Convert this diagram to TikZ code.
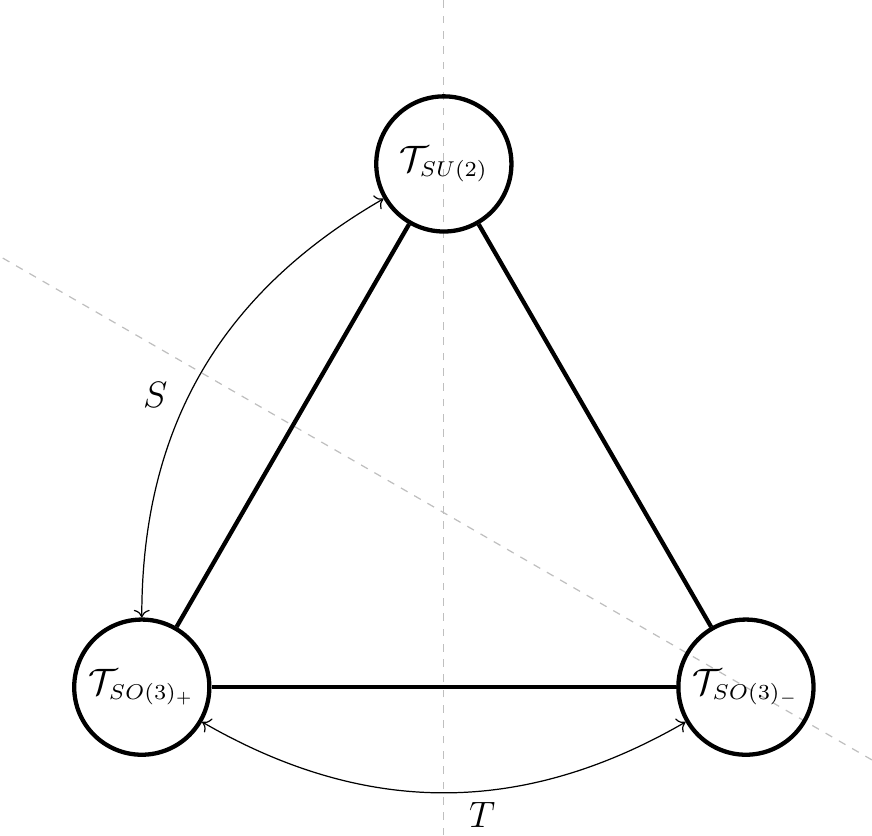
\documentclass[tikz,border=0pt]{standalone}
\usepackage{amsmath,amssymb}
\usepackage{tikz}
\usetikzlibrary{arrows.meta}
\DeclareMathSizes{12}{12}{7}{5}

\begin{document}
\begin{tikzpicture}[
    theory/.style={circle,draw,line width=1.4pt,minimum size=1.55cm,inner sep=0pt,font=\large},
    mirror/.style={gray!50,dash pattern=on 2.5pt off 2.5pt}]
  \useasboundingbox (-5.09,-3.70) rectangle (4.91,5.88);
  % symmetry axes
  \draw[mirror] (0,-3.70) -- (0,5.88);
  \draw[mirror] (4.91,-2.835) -- (-5.09,2.939);
  % the three theories
  \node[theory] (su2) at (90:4) {$\mathcal{T}_{SU(2)}$};
  \node[theory] (sop) at (210:4) {$\mathcal{T}_{SO(3)_+}$};
  \node[theory] (som) at (330:4) {$\mathcal{T}_{SO(3)_-}$};
  \draw[line width=1.4pt] (su2) -- (sop);
  \draw[line width=1.4pt] (sop) -- (som);
  \draw[line width=1.4pt] (som) -- (su2);
  % S and T actions
  \draw[<->] (sop) to[bend left=30] (su2);
  \draw[<->] (sop) to[bend right=30] (som);
  \node[font=\large] (slab) at (-3.31,1.35) {$S$};
  \node[font=\large] (tlab) at (0.44,-3.47) {$T$};
\end{tikzpicture}
\end{document}
